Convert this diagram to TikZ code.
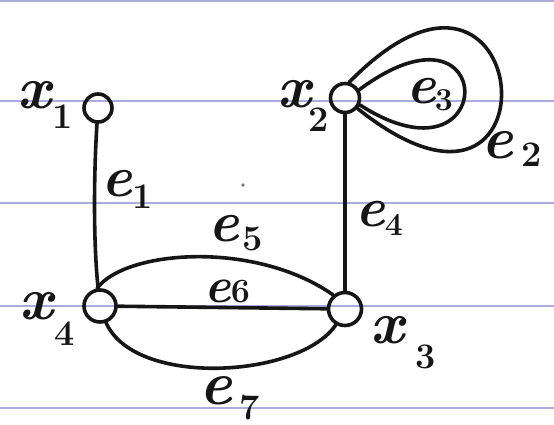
\documentclass[tikz,border=0pt]{standalone}
\definecolor{ruleclr}{RGB}{172,172,218}
\definecolor{inkclr}{RGB}{22,22,22}
\newcommand\hw[6]{{\fontsize{#5}{#5}\selectfont\bfseries\itshape #1}\kern#3pt\raisebox{-#4pt}{\fontsize{#6}{#6}\selectfont\bfseries #2}}
\tikzset{
  ruling/.style={ruleclr, line width=1.3pt},
  vtx/.style={circle, draw=inkclr, line width=3.6pt, inner sep=0pt},
  edgeline/.style={draw=inkclr, line width=3.6pt, line cap=round},
  lbl/.style={inner sep=0pt, anchor=base west, text=inkclr},
}
\begin{document}
\begin{tikzpicture}[x=1pt, y=-1pt]
\useasboundingbox (0,0) rectangle (554,425);
\fill[white] (0,0) rectangle (554,425);
% ruled paper lines
\foreach \yy in {1,101,203,306,408}
  \draw[ruling] (0,\yy) -- (554,\yy);
% stray dot
\fill[ruleclr!70!black] (243,185) circle (1.8pt);
% vertices
\node[vtx, minimum size=28pt] (x1) at (98,108) {};
\node[vtx, minimum size=29pt] (x2) at (345,98) {};
\node[vtx, minimum size=32pt] (x4) at (100,306) {};
\node[vtx, minimum size=33pt] (x3) at (345,309) {};
% edges
\draw[edgeline] (x1) .. controls (94,170) and (93,240) .. (x4);
\draw[edgeline] (x2) -- (x3);
\draw[edgeline] (x4) -- (x3);
\draw[edgeline] (x4.100) .. controls (125,250) and (255,240) .. (x3.130);
\draw[edgeline] (x4.-70) .. controls (135,388) and (300,378) .. (x3.-120);
\draw[edgeline] (x2.30) .. controls (500,-15) and (500,195) .. (x2.-25);
\draw[edgeline] (x2.75) .. controls (535,-108) and (566,275) .. (x2.-40);
% labels
\node[lbl] (lx1) at (17,109) {\hw{x}{1}{2}{20}{60}{36}};
\node[lbl] (lx2) at (277,108) {\hw{x}{2}{-2}{24}{60}{36}};
\node[lbl] (lx4) at (19,319) {\hw{x}{4}{2}{26}{60}{36}};
\node[lbl] (lx3) at (370,343) {\hw{x}{3}{12}{25}{60}{36}};
\node[lbl] (le1) at (101,196) {\hw{e}{1}{0}{13}{58}{36}};
\node[lbl] (le2) at (481,158) {\hw{e}{2}{8}{9}{60}{36}};
\node[lbl] (le3) at (406,104) {\hw{e}{3}{-1}{6}{56}{32}};
\node[lbl] (le4) at (355,226) {\hw{e}{4}{0}{9}{56}{32}};
\node[lbl] (le5) at (208,241) {\hw{e}{5}{3}{9}{58}{36}};
\node[lbl] (le6) at (204,302) {\hw{e}{6}{0}{0}{50}{34}};
\node[lbl] (le7) at (199,404) {\hw{e}{7}{7}{15}{62}{36}};
\end{tikzpicture}
\end{document}
